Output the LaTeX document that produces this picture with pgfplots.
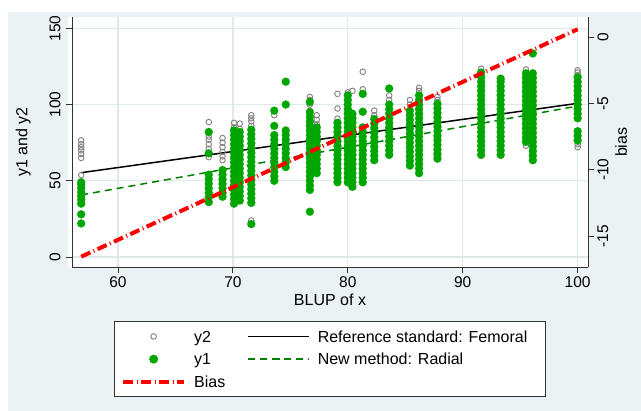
\documentclass[border=0pt]{standalone}
\usepackage{fontspec}
\setmainfont{Liberation Sans}
\usepackage{pgfplots}
\pgfplotsset{compat=1.18}
\definecolor{bgcol}{HTML}{EAF2F3}
\definecolor{gridcol}{HTML}{DFE9EB}
\definecolor{ptgreen}{HTML}{00A600}
\definecolor{lngreen}{HTML}{008000}
\definecolor{axcol}{HTML}{333333}
\definecolor{ptgray}{HTML}{808080}

\pgfplotsset{
  stataaxis/.style={
    at={(72bp,144bp)}, anchor=south west,
    scale only axis, width=516bp, height=249.5bp,
    xmin=56, xmax=100.9,
    axis line style={axcol, line width=0.9bp},
    tick align=outside, major tick length=6bp,
    tick style={axcol, line width=0.9bp},
    /pgf/number format/assume math mode=true,
    tick label style={font=\fontsize{15.5bp}{18bp}\selectfont},
    label style={font=\fontsize{16bp}{19bp}\selectfont},
  },
}

\begin{document}
\begin{tikzpicture}
\path[use as bounding box] (0,0) rectangle (641bp,411bp);
\fill[bgcol] (8bp,0) rectangle (641bp,399bp);
\fill[white] (68bp,144bp) rectangle (588bp,393.5bp);

\begin{axis}[
  stataaxis,
  ymin=-6.56, ymax=157.1,
  axis x line*=bottom, axis y line*=left,
  xtick={60,70,80,90,100}, ytick={0,50,100,150},
  grid=major, grid style={gridcol, line width=1.3bp},
  yticklabel style={rotate=90, anchor=south, yshift=2bp},
  xlabel={BLUP of x}, ylabel={y1 and y2},
  ylabel style={yshift=12bp},
  legend columns=2,
  legend cell align=left,
  legend image code/.code={\draw[mark repeat=2,mark phase=2,#1] plot coordinates {(0bp,0bp) (30.5bp,0bp) (61bp,0bp)};},
  legend style={
    at={(0.0814,-0.2164)}, anchor=north west,
    draw=axcol, line width=0.9bp, fill=white,
    inner xsep=6.7bp, inner ysep=7.7bp,
    font=\fontsize{16bp}{19bp}\selectfont,
    column sep=8bp,
    /tikz/every even column/.append style={column sep=22bp},
    row sep=8.1bp,
    nodes={inner sep=0bp, text height=13bp, text depth=1.6bp},
  },
]
% y2
\addplot[only marks, mark=o, mark size=2.8bp, mark options={draw=ptgray, line width=0.9bp}, forget plot] coordinates {
(56.8,53.7)(56.8,65)(56.8,67.5)(56.8,70)(56.8,72)(56.8,74)(56.8,76.5)
(67.9,65.5)(67.9,68)(67.9,71)(67.9,74)(67.9,77)(67.9,79)(67.9,88.5)
(69.1,63.5)(69.1,66)(69.1,69)(69.1,72)(69.1,75)(69.1,78)
(70.1,85)(70.1,88)
(70.6,84)(70.6,87.5)
(71.6,24)(71.6,86)(71.6,89)(71.6,91)(71.6,93)
(73.6,93)
(76.7,88)(76.7,92)(76.7,96)(76.7,100)(76.7,103)(76.7,105)
(77.3,87)(77.3,90)(77.3,93)
(79.1,90.8)(79.1,97.4)(79.1,107)
(80.0,108)
(80.4,109)
(81.3,110)(81.3,121.5)
(82.3,93)(82.3,96)
(83.6,103)(83.6,106)
(85.4,100)(85.4,103)
(86.2,109)(86.2,111)
(87.8,103)(87.8,105)
(91.6,123.5)
(95.5,73)(95.5,123)
(96.1,68)
(100,72)(100,74)(100,121)(100,122.5)
};
% y1
\addplot[only marks, mark=*, mark size=4bp, mark options={fill=ptgreen, draw=ptgreen, line width=0.2bp}, forget plot] coordinates {
(56.8,22)(56.8,28)(56.8,35)(56.8,37.5)(56.8,40)(56.8,42.5)(56.8,45)(56.8,47.5)(56.8,49)
(67.9,36)(67.9,39)(67.9,42)(67.9,45)(67.9,48)(67.9,51)(67.9,54)(67.9,68)(67.9,82)
(69.1,39.5)(69.1,42)(69.1,45)(69.1,48)(69.1,51)(69.1,54)(69.1,57)
(70.1,35)(70.1,38)(70.1,41)(70.1,44)(70.1,47)(70.1,50)(70.1,53)(70.1,56)(70.1,59)(70.1,62)(70.1,65)(70.1,68)(70.1,71)(70.1,74)(70.1,77)(70.1,80)(70.1,83)
(70.6,37)(70.6,40)(70.6,43)(70.6,46)(70.6,49)(70.6,52)(70.6,55)(70.6,58)(70.6,61)(70.6,64)(70.6,67)(70.6,70)(70.6,73)(70.6,76)(70.6,79)(70.6,82)
(71.6,21.6)(71.6,35.5)(71.6,38.5)(71.6,41.5)(71.6,44.5)(71.6,47.5)(71.6,50.5)(71.6,53.5)(71.6,56.5)(71.6,59.5)(71.6,62.5)(71.6,65.5)(71.6,68.5)(71.6,71.5)(71.6,74.5)(71.6,77.5)(71.6,80.5)(71.6,83.5)
(73.6,50)(73.6,53)(73.6,56)(73.6,59)(73.6,62)(73.6,65)(73.6,68)(73.6,71)(73.6,74)(73.6,77)(73.6,80)(73.6,86)(73.6,96)
(74.6,59)(74.6,62)(74.6,65)(74.6,68)(74.6,71)(74.6,74)(74.6,77)(74.6,80)(74.6,83)(74.6,100)(74.6,115)
(76.7,29.7)(76.7,44)(76.7,47)(76.7,50)(76.7,53)(76.7,56)(76.7,59)(76.7,62)(76.7,65)(76.7,68)(76.7,71)(76.7,74)(76.7,77)(76.7,80)(76.7,83)(76.7,86)(76.7,89)(76.7,92)(76.7,95)(76.7,101.7)
(77.3,55)(77.3,58)(77.3,61)(77.3,64)(77.3,67)(77.3,70)(77.3,73)(77.3,76)(77.3,79)(77.3,82)(77.3,85)
(79.1,49)(79.1,52)(79.1,55)(79.1,58)(79.1,61)(79.1,64)(79.1,67)(79.1,70)(79.1,73)(79.1,76)(79.1,79)(79.1,82)(79.1,85)(79.1,88)
(80.0,49)(80.0,52)(80.0,55)(80.0,58)(80.0,61)(80.0,64)(80.0,67)(80.0,70)(80.0,73)(80.0,76)(80.0,79)(80.0,82)(80.0,85)(80.0,88)(80.0,91)(80.0,94)(80.0,97)(80.0,100)(80.0,103)(80.0,106)
(80.4,46)(80.4,49)(80.4,52)(80.4,55)(80.4,58)(80.4,61)(80.4,64)(80.4,67)(80.4,70)(80.4,73)(80.4,76)(80.4,79)(80.4,82)(80.4,85)(80.4,88)(80.4,91)(80.4,94)
(81.3,49)(81.3,52)(81.3,55)(81.3,58)(81.3,61)(81.3,64)(81.3,67)(81.3,70)(81.3,73)(81.3,76)(81.3,79)(81.3,82)(81.3,85)(81.3,95.3)(81.3,107)
(82.3,63.5)(82.3,66.5)(82.3,69.5)(82.3,72.5)(82.3,75.5)(82.3,78.5)(82.3,81.5)(82.3,84.5)(82.3,87.5)(82.3,90.5)
(83.6,67)(83.6,70)(83.6,73)(83.6,76)(83.6,79)(83.6,82)(83.6,85)(83.6,88)(83.6,91)(83.6,94)(83.6,97)(83.6,100)(83.6,110.5)
(85.4,60)(85.4,63)(85.4,66)(85.4,69)(85.4,72)(85.4,75)(85.4,78)(85.4,81)(85.4,84)(85.4,87)(85.4,90)(85.4,93)(85.4,96)
(86.2,55)(86.2,58)(86.2,61)(86.2,64)(86.2,67)(86.2,70)(86.2,73)(86.2,76)(86.2,79)(86.2,82)(86.2,85)(86.2,88)(86.2,91)(86.2,94)(86.2,97)(86.2,100)(86.2,103)(86.2,106)
(87.8,64.5)(87.8,67.5)(87.8,70.5)(87.8,73.5)(87.8,76.5)(87.8,79.5)(87.8,82.5)(87.8,85.5)(87.8,88.5)(87.8,91.5)(87.8,94.5)(87.8,97.5)(87.8,100.5)
(91.6,67)(91.6,70)(91.6,73)(91.6,76)(91.6,79)(91.6,82)(91.6,85)(91.6,88)(91.6,91)(91.6,94)(91.6,97)(91.6,100)(91.6,103)(91.6,106)(91.6,109)(91.6,112)(91.6,115)(91.6,118)(91.6,121)
(93.3,67)(93.3,70)(93.3,73)(93.3,76)(93.3,79)(93.3,82)(93.3,85)(93.3,88)(93.3,91)(93.3,94)(93.3,97)(93.3,100)(93.3,103)(93.3,106)(93.3,109)(93.3,112)(93.3,115)(93.3,117)
(95.5,75.5)(95.5,78.5)(95.5,81.5)(95.5,84.5)(95.5,87.5)(95.5,90.5)(95.5,93.5)(95.5,96.5)(95.5,99.5)(95.5,102.5)(95.5,105.5)(95.5,108.5)(95.5,111.5)(95.5,114.5)(95.5,117.5)(95.5,120.5)
(96.1,63.5)(96.1,66.5)(96.1,69.5)(96.1,72.5)(96.1,75.5)(96.1,78.5)(96.1,81.5)(96.1,84.5)(96.1,87.5)(96.1,90.5)(96.1,93.5)(96.1,96.5)(96.1,99.5)(96.1,102.5)(96.1,105.5)(96.1,108.5)(96.1,111.5)(96.1,114.5)(96.1,117.5)(96.1,120.5)(96.1,133.5)
(100,76.5)(100,79.5)(100,82.5)(100,91)(100,94)(100,97)(100,100)(100,103)(100,106)(100,109)(100,112)(100,115)(100,118)
};
% fitted lines
\addplot[black, line width=1.5bp, forget plot] coordinates {(56.8,55.3) (100,100.8)};
\addplot[lngreen, line width=1.5bp, dash pattern=on 7bp off 5bp, forget plot] coordinates {(56.8,40.7) (100,99.0)};

\addlegendimage{only marks, mark=o, mark size=2.8bp, mark options={draw=ptgray, line width=0.9bp}}
\addlegendentry{y2}
\addlegendimage{black, line width=1.5bp}
\addlegendentry{Reference standard: Femoral\hspace*{11bp}}
\addlegendimage{only marks, mark=*, mark size=4bp, mark options={fill=ptgreen, draw=ptgreen}}
\addlegendentry{y1}
\addlegendimage{lngreen, line width=1.5bp, dash pattern=on 7bp off 5bp}
\addlegendentry{New method: Radial}
\addlegendimage{red, line width=4bp, dash pattern=on 10bp off 3.5bp on 1bp off 3.5bp}
\addlegendentry{Bias}
\end{axis}

\begin{axis}[
  stataaxis,
  ymin=-17.34, ymax=1.49,
  axis x line=none, axis y line*=right,
  ytick={-15,-10,-5,0},
  yticklabel style={rotate=90, anchor=north},
  ylabel={bias},
]
\addplot[red, line width=4bp, dash pattern=on 10bp off 3.5bp on 1bp off 3.5bp] coordinates {(56.8,-16.56) (100,0.6)};
\end{axis}
\end{tikzpicture}
\end{document}
